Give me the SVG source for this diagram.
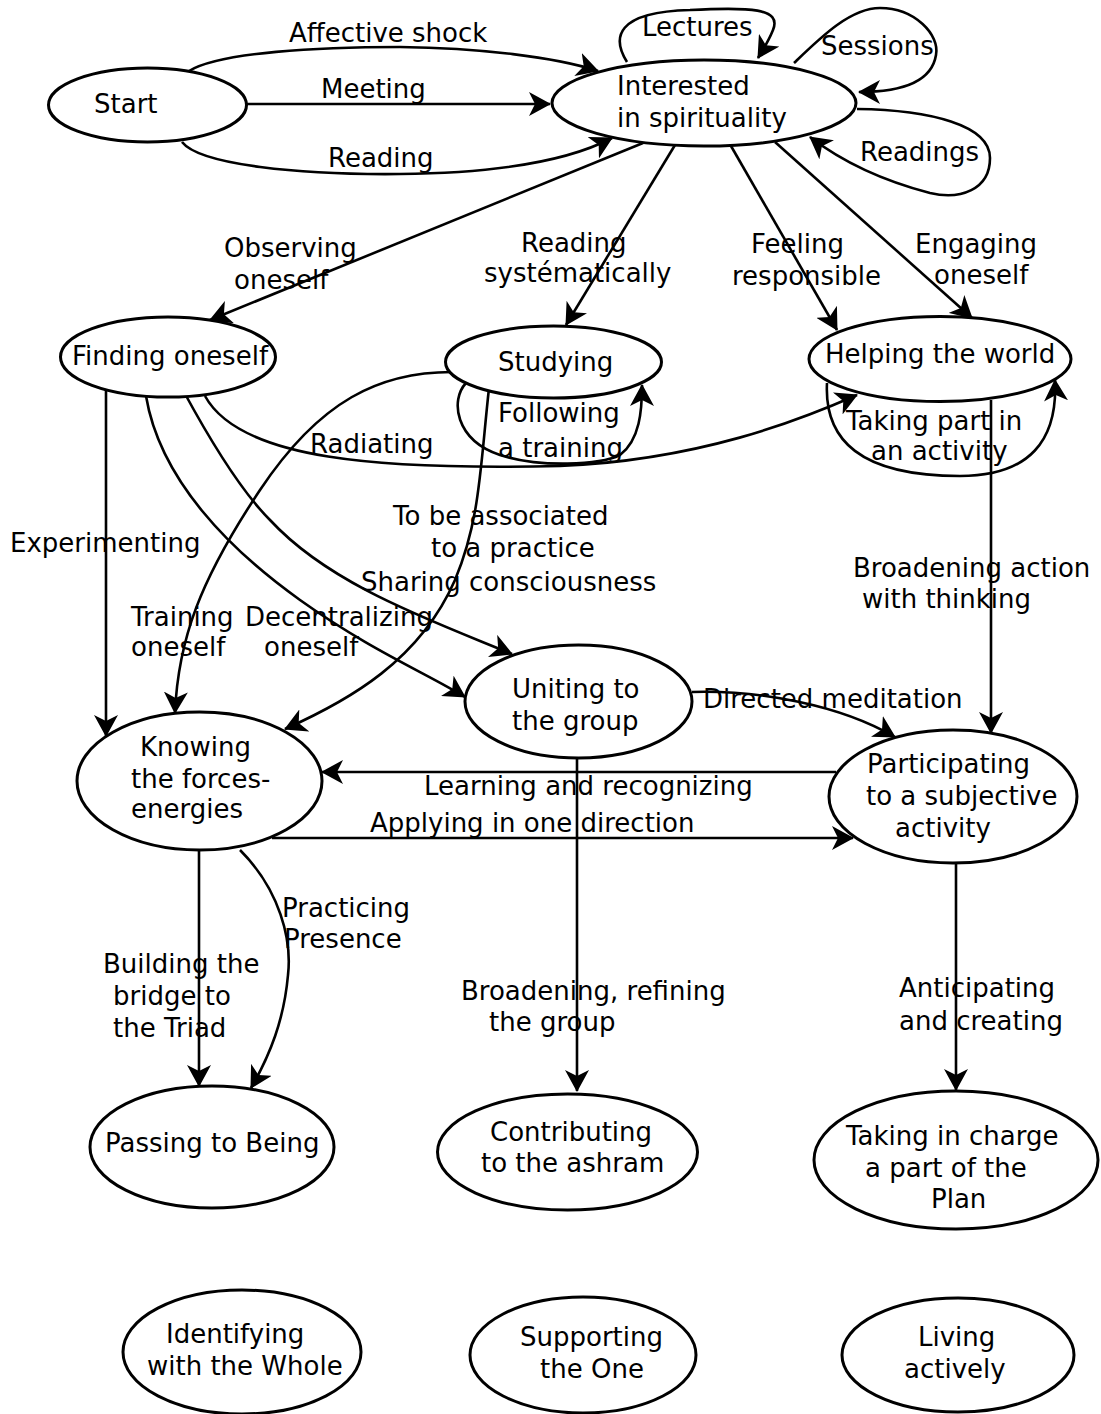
<svg xmlns="http://www.w3.org/2000/svg" width="1101" height="1414" viewBox="0 0 1101 1414">
  <style>
    text { font-family: "DejaVu Sans", "Liberation Sans", sans-serif; font-size: 26px; fill: #000; }
    .node ellipse { fill: #fff; stroke: #000; stroke-width: 3; }
    .edge { fill: none; stroke: #000; stroke-width: 2.6; marker-end: url(#arrow); }
  </style>
  <defs>
    <marker id="arrow" markerUnits="userSpaceOnUse" viewBox="0 0 22 24" refX="21" refY="12" markerWidth="22" markerHeight="24" orient="auto">
      <path d="M0,0 L22,12 L0,24 L6,12 z" fill="#000"/>
    </marker>
  </defs>
  <rect width="1101" height="1414" fill="#fff"/>

  <!-- connectors -->
  <g id="connectors">
    <path class="edge" d="M189,71 C220,52 320,47 400,47 C480,48 555,57 598,71"/>
    <path class="edge" d="M246,104 L550,104"/>
    <path class="edge" d="M182,142 C200,165 300,175 400,174 C500,173 570,160 612,138"/>
    <path class="edge" d="M627,62 C612,38 615,12 690,10 C750,7 782,8 773,30 C769,40 763,50 758,58"/>
    <path class="edge" d="M794,63 C820,38 850,8 880,8 C915,8 940,35 936,55 C932,80 905,92 859,92"/>
    <path class="edge" d="M857,109 C930,110 990,125 990,158 C990,190 960,200 930,193 C880,180 840,160 810,137"/>
    <path class="edge" d="M643,143 L210,320"/>
    <path class="edge" d="M675,145 L566,325"/>
    <path class="edge" d="M731,146 L837,330"/>
    <path class="edge" d="M775,142 L972,318"/>
    <path class="edge" d="M827,383 C824,440 860,476 960,476 C1030,476 1058,440 1055,380"/>
    <path class="edge" d="M466,383 C450,400 455,440 500,455 C540,468 600,465 620,455 C640,440 642,410 642,385"/>
    <path class="edge" d="M205,396 C240,460 380,470 560,466 C700,460 800,420 857,395"/>
    <path class="edge" d="M106,390 L106,736"/>
    <path class="edge" d="M146,396 C160,480 230,550 300,600 C370,650 430,675 465,697"/>
    <path class="edge" d="M184,392 C210,440 240,490 270,520 C330,585 430,620 512,654"/>
    <path class="edge" d="M452,372 C380,372 320,400 260,490 C200,580 178,640 175,713"/>
    <path class="edge" d="M489,388 C480,470 480,520 455,580 C420,660 350,700 285,729"/>
    <path class="edge" d="M991,400 L991,733"/>
    <path class="edge" d="M692,692 C760,690 840,705 895,737"/>
    <path class="edge" d="M836,772 L322,772"/>
    <path class="edge" d="M272,838 L853,838"/>
    <path class="edge" d="M577,758 L577,1091"/>
    <path class="edge" d="M956,863 L956,1090"/>
    <path class="edge" d="M199,850 L199,1086"/>
    <path class="edge" d="M240,850 C280,890 292,940 288,975 C284,1020 270,1055 251,1088"/>
  </g>

  <!-- edge labels -->
  <g id="edge-labels">
    <text x="289" y="42">Affective shock</text>
    <text x="321" y="98">Meeting</text>
    <text x="328" y="167">Reading</text>
    <text x="642" y="36">Lectures</text>
    <text x="821" y="55">Sessions</text>
    <text x="860" y="161">Readings</text>
    <text x="224" y="257">Observing</text>
    <text x="234" y="289">oneself</text>
    <text x="521" y="252">Reading</text>
    <text x="484" y="282">systématically</text>
    <text x="751" y="253">Feeling</text>
    <text x="732" y="285">responsible</text>
    <text x="915" y="253">Engaging</text>
    <text x="934" y="284">oneself</text>
    <text x="310" y="453">Radiating</text>
    <text x="498" y="422">Following</text>
    <text x="498" y="457">a training</text>
    <text x="846" y="430">Taking part in</text>
    <text x="871" y="460">an activity</text>
    <text x="10" y="552">Experimenting</text>
    <text x="393" y="525">To be associated</text>
    <text x="431" y="557">to a practice</text>
    <text x="361" y="591">Sharing consciousness</text>
    <text x="131" y="626">Training</text>
    <text x="131" y="656">oneself</text>
    <text x="245" y="626">Decentralizing</text>
    <text x="264" y="656">oneself</text>
    <text x="853" y="577">Broadening action</text>
    <text x="862" y="608">with thinking</text>
    <text x="703" y="708">Directed meditation</text>
    <text x="424" y="795">Learning and recognizing</text>
    <text x="370" y="832">Applying in one direction</text>
    <text x="282" y="917">Practicing</text>
    <text x="284" y="948">Presence</text>
    <text x="103" y="973">Building the</text>
    <text x="113" y="1005">bridge to</text>
    <text x="113" y="1037">the Triad</text>
    <text x="461" y="1000">Broadening, refining</text>
    <text x="489" y="1031">the group</text>
    <text x="899" y="997">Anticipating</text>
    <text x="899" y="1030">and creating</text>
  </g>

  <!-- nodes -->
  <g id="start" class="node">
    <ellipse cx="147.5" cy="105" rx="99" ry="37"/>
    <text x="94" y="113">Start</text>
  </g>
  <g id="interested" class="node">
    <ellipse cx="704" cy="103" rx="152" ry="43"/>
    <text x="617" y="95">Interested</text>
    <text x="617" y="127">in spirituality</text>
  </g>
  <g id="finding-oneself" class="node">
    <ellipse cx="168" cy="357" rx="107.5" ry="40"/>
    <text x="72" y="365">Finding oneself</text>
  </g>
  <g id="studying" class="node">
    <ellipse cx="553.5" cy="362" rx="108" ry="36"/>
    <text x="498" y="371">Studying</text>
  </g>
  <g id="helping-world" class="node">
    <ellipse cx="940" cy="359" rx="131" ry="42.5"/>
    <text x="825" y="363">Helping the world</text>
  </g>
  <g id="knowing-forces" class="node">
    <ellipse cx="199.5" cy="781" rx="122.5" ry="69"/>
    <text x="140" y="756">Knowing</text>
    <text x="131" y="788">the forces-</text>
    <text x="131" y="818">energies</text>
  </g>
  <g id="uniting-group" class="node">
    <ellipse cx="578.5" cy="701.5" rx="113.5" ry="56.5"/>
    <text x="512" y="698">Uniting to</text>
    <text x="512" y="730">the group</text>
  </g>
  <g id="participating" class="node">
    <ellipse cx="953" cy="796.5" rx="124" ry="66.5"/>
    <text x="867" y="773">Participating</text>
    <text x="866" y="805">to a subjective</text>
    <text x="895" y="837">activity</text>
  </g>
  <g id="passing-being" class="node">
    <ellipse cx="212" cy="1147" rx="122" ry="61"/>
    <text x="105" y="1152">Passing to Being</text>
  </g>
  <g id="contributing" class="node">
    <ellipse cx="567.5" cy="1152" rx="130" ry="58"/>
    <text x="490" y="1141">Contributing</text>
    <text x="481" y="1172">to the ashram</text>
  </g>
  <g id="taking-charge" class="node">
    <ellipse cx="956" cy="1160" rx="142" ry="69"/>
    <text x="846" y="1145">Taking in charge</text>
    <text x="865" y="1177">a part of the</text>
    <text x="931" y="1208">Plan</text>
  </g>
  <g id="identifying" class="node">
    <ellipse cx="242" cy="1352" rx="119" ry="62"/>
    <text x="166" y="1343">Identifying</text>
    <text x="147" y="1375">with the Whole</text>
  </g>
  <g id="supporting" class="node">
    <ellipse cx="583" cy="1355" rx="113" ry="58"/>
    <text x="520" y="1346">Supporting</text>
    <text x="540" y="1378">the One</text>
  </g>
  <g id="living" class="node">
    <ellipse cx="958" cy="1355" rx="116" ry="57"/>
    <text x="918" y="1346">Living</text>
    <text x="904" y="1378">actively</text>
  </g>
</svg>
